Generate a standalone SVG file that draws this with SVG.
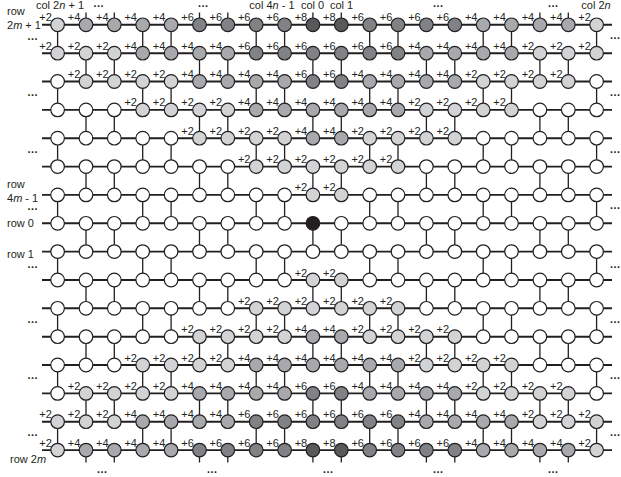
<svg xmlns="http://www.w3.org/2000/svg" xmlns:xlink="http://www.w3.org/1999/xlink" width="621" height="477" viewBox="0 0 621 477">
<style>
text{font-family:"Liberation Sans",Arial,sans-serif;fill:#231f20;font-size:11px}
.n circle{stroke:#231f20;stroke-width:1.2}
.n text{font-size:11px;text-anchor:middle}
.c0{fill:#ffffff}.c2{fill:#d1d3d4}.c4{fill:#a7a9ac}.c6{fill:#808285}.c8{fill:#58595b}.co{fill:#231f20}
.h{stroke:#231f20;stroke-width:1.9;fill:none}
.vl{stroke:#231f20;stroke-width:1.3;fill:none}
.dots{text-anchor:middle;font-size:11px;font-weight:bold}
.mid{text-anchor:middle}
</style>
<defs>
<path id="ve" d="M0 24.8V53.2M0 81.5V109.9M0 138.2V166.6M0 194.9V223.3M0 251.6V280M0 308.3V336.7M0 365V393.4M0 421.7V450.1"/>
<path id="vo" d="M0 53.2V81.5M0 109.9V138.2M0 166.6V194.9M0 223.3V251.6M0 280V308.3M0 336.7V365M0 393.4V421.7M0 450.1V462.5"/>
<path id="vt" d="M0 12.5V24.8"/>
</defs>
<g id="connectors">
<path class="h" d="M42 24.8H612M42 53.2H612M42 81.5H612M42 109.9H612M42 138.2H612M42 166.6H612M42 194.9H612M42 223.3H612M42 251.6H612M42 280H612M42 308.3H612M42 336.7H612M42 365H612M42 393.4H612M42 421.7H612M42 450.1H612"/>
<g class="vl">
<use xlink:href="#ve" x="57.6"/><use xlink:href="#ve" x="142.7"/><use xlink:href="#ve" x="171.1"/><use xlink:href="#ve" x="256.2"/><use xlink:href="#ve" x="284.6"/><use xlink:href="#ve" x="369.7"/><use xlink:href="#ve" x="398"/><use xlink:href="#ve" x="483.2"/><use xlink:href="#ve" x="511.5"/><use xlink:href="#ve" x="596.6"/>
<use xlink:href="#vo" x="86"/><use xlink:href="#vo" x="114.3"/><use xlink:href="#vo" x="199.5"/><use xlink:href="#vo" x="227.8"/><use xlink:href="#vo" x="312.9"/><use xlink:href="#vo" x="341.3"/><use xlink:href="#vo" x="426.4"/><use xlink:href="#vo" x="454.8"/><use xlink:href="#vo" x="539.9"/><use xlink:href="#vo" x="568.3"/>
<use xlink:href="#vt" x="86"/><use xlink:href="#vt" x="114.3"/><use xlink:href="#vt" x="199.5"/><use xlink:href="#vt" x="227.8"/><use xlink:href="#vt" x="312.9"/><use xlink:href="#vt" x="341.3"/><use xlink:href="#vt" x="539.9"/><use xlink:href="#vt" x="568.3"/>
</g>
</g>
<g id="labels">
<text x="60" y="9" class="mid">col 2<tspan font-style="italic">n</tspan> + 1</text>
<text x="272" y="9" class="mid">col 4<tspan font-style="italic">n</tspan> - 1</text>
<text x="312.5" y="9" class="mid">col 0</text>
<text x="341.5" y="9" class="mid">col 1</text>
<text x="596" y="9" class="mid">col 2<tspan font-style="italic">n</tspan></text>
<text x="7" y="15">row</text>
<text x="7" y="29">2<tspan font-style="italic">m</tspan> + 1</text>
<text x="7" y="188">row</text>
<text x="7" y="201.5">4<tspan font-style="italic">m</tspan> - 1</text>
<text x="7" y="227">row 0</text>
<text x="7" y="257.5">row 1</text>
<text x="10" y="463">row 2<tspan font-style="italic">m</tspan></text>
<text class="dots" x="98.5" y="7">…</text><text class="dots" x="203" y="7">…</text><text class="dots" x="438" y="7">…</text><text class="dots" x="553" y="7">…</text>
<text class="dots" x="102" y="473">…</text><text class="dots" x="212" y="473">…</text><text class="dots" x="328" y="473">…</text><text class="dots" x="438" y="473">…</text><text class="dots" x="553" y="473">…</text>
<text class="dots" x="32.5" y="39.8">…</text><text class="dots" x="32.5" y="96">…</text><text class="dots" x="32.5" y="152.7">…</text><text class="dots" x="32.5" y="209.8">…</text><text class="dots" x="32.5" y="267.7">…</text><text class="dots" x="32.5" y="322.7">…</text><text class="dots" x="32.5" y="379.3">…</text><text class="dots" x="32.5" y="436">…</text>
<text class="dots" x="615" y="39.3">…</text><text class="dots" x="615" y="96">…</text><text class="dots" x="615" y="152.7">…</text><text class="dots" x="615" y="209.3">…</text><text class="dots" x="615" y="267.7">…</text><text class="dots" x="615" y="322.7">…</text><text class="dots" x="615" y="379.3">…</text><text class="dots" x="615" y="436">…</text>
</g>
<g id="nodes">
<!-- row 0 -->
<g id="n0-0" class="n" transform="translate(57.6 24.8)"><circle class="c2" r="6.8"/><text x="-12" y="-3.5">+2</text></g>
<g id="n0-1" class="n" transform="translate(86 24.8)"><circle class="c4" r="6.8"/><text x="-12" y="-3.5">+4</text></g>
<g id="n0-2" class="n" transform="translate(114.3 24.8)"><circle class="c4" r="6.8"/><text x="-12" y="-3.5">+4</text></g>
<g id="n0-3" class="n" transform="translate(142.7 24.8)"><circle class="c4" r="6.8"/><text x="-12" y="-3.5">+4</text></g>
<g id="n0-4" class="n" transform="translate(171.1 24.8)"><circle class="c4" r="6.8"/><text x="-12" y="-3.5">+4</text></g>
<g id="n0-5" class="n" transform="translate(199.5 24.8)"><circle class="c6" r="6.8"/><text x="-12" y="-3.5">+6</text></g>
<g id="n0-6" class="n" transform="translate(227.8 24.8)"><circle class="c6" r="6.8"/><text x="-12" y="-3.5">+6</text></g>
<g id="n0-7" class="n" transform="translate(256.2 24.8)"><circle class="c6" r="6.8"/><text x="-12" y="-3.5">+6</text></g>
<g id="n0-8" class="n" transform="translate(284.6 24.8)"><circle class="c6" r="6.8"/><text x="-12" y="-3.5">+6</text></g>
<g id="n0-9" class="n" transform="translate(312.9 24.8)"><circle class="c8" r="6.8"/><text x="-12" y="-3.5">+8</text></g>
<g id="n0-10" class="n" transform="translate(341.3 24.8)"><circle class="c8" r="6.8"/><text x="-12" y="-3.5">+8</text></g>
<g id="n0-11" class="n" transform="translate(369.7 24.8)"><circle class="c6" r="6.8"/><text x="-12" y="-3.5">+6</text></g>
<g id="n0-12" class="n" transform="translate(398 24.8)"><circle class="c6" r="6.8"/><text x="-12" y="-3.5">+6</text></g>
<g id="n0-13" class="n" transform="translate(426.4 24.8)"><circle class="c6" r="6.8"/><text x="-12" y="-3.5">+6</text></g>
<g id="n0-14" class="n" transform="translate(454.8 24.8)"><circle class="c6" r="6.8"/><text x="-12" y="-3.5">+6</text></g>
<g id="n0-15" class="n" transform="translate(483.2 24.8)"><circle class="c4" r="6.8"/><text x="-12" y="-3.5">+4</text></g>
<g id="n0-16" class="n" transform="translate(511.5 24.8)"><circle class="c4" r="6.8"/><text x="-12" y="-3.5">+4</text></g>
<g id="n0-17" class="n" transform="translate(539.9 24.8)"><circle class="c4" r="6.8"/><text x="-12" y="-3.5">+4</text></g>
<g id="n0-18" class="n" transform="translate(568.3 24.8)"><circle class="c4" r="6.8"/><text x="-12" y="-3.5">+4</text></g>
<g id="n0-19" class="n" transform="translate(596.6 24.8)"><circle class="c2" r="6.8"/><text x="-12" y="-3.5">+2</text></g>
<!-- row 1 -->
<g id="n1-0" class="n" transform="translate(57.6 53.2)"><circle class="c2" r="6.8"/><text x="-12" y="-3.5">+2</text></g>
<g id="n1-1" class="n" transform="translate(86 53.2)"><circle class="c2" r="6.8"/><text x="-12" y="-3.5">+2</text></g>
<g id="n1-2" class="n" transform="translate(114.3 53.2)"><circle class="c2" r="6.8"/><text x="-12" y="-3.5">+2</text></g>
<g id="n1-3" class="n" transform="translate(142.7 53.2)"><circle class="c4" r="6.8"/><text x="-12" y="-3.5">+4</text></g>
<g id="n1-4" class="n" transform="translate(171.1 53.2)"><circle class="c4" r="6.8"/><text x="-12" y="-3.5">+4</text></g>
<g id="n1-5" class="n" transform="translate(199.5 53.2)"><circle class="c4" r="6.8"/><text x="-12" y="-3.5">+4</text></g>
<g id="n1-6" class="n" transform="translate(227.8 53.2)"><circle class="c4" r="6.8"/><text x="-12" y="-3.5">+4</text></g>
<g id="n1-7" class="n" transform="translate(256.2 53.2)"><circle class="c6" r="6.8"/><text x="-12" y="-3.5">+6</text></g>
<g id="n1-8" class="n" transform="translate(284.6 53.2)"><circle class="c6" r="6.8"/><text x="-12" y="-3.5">+6</text></g>
<g id="n1-9" class="n" transform="translate(312.9 53.2)"><circle class="c6" r="6.8"/><text x="-12" y="-3.5">+6</text></g>
<g id="n1-10" class="n" transform="translate(341.3 53.2)"><circle class="c6" r="6.8"/><text x="-12" y="-3.5">+6</text></g>
<g id="n1-11" class="n" transform="translate(369.7 53.2)"><circle class="c6" r="6.8"/><text x="-12" y="-3.5">+6</text></g>
<g id="n1-12" class="n" transform="translate(398 53.2)"><circle class="c6" r="6.8"/><text x="-12" y="-3.5">+6</text></g>
<g id="n1-13" class="n" transform="translate(426.4 53.2)"><circle class="c4" r="6.8"/><text x="-12" y="-3.5">+4</text></g>
<g id="n1-14" class="n" transform="translate(454.8 53.2)"><circle class="c4" r="6.8"/><text x="-12" y="-3.5">+4</text></g>
<g id="n1-15" class="n" transform="translate(483.2 53.2)"><circle class="c4" r="6.8"/><text x="-12" y="-3.5">+4</text></g>
<g id="n1-16" class="n" transform="translate(511.5 53.2)"><circle class="c4" r="6.8"/><text x="-12" y="-3.5">+4</text></g>
<g id="n1-17" class="n" transform="translate(539.9 53.2)"><circle class="c2" r="6.8"/><text x="-12" y="-3.5">+2</text></g>
<g id="n1-18" class="n" transform="translate(568.3 53.2)"><circle class="c2" r="6.8"/><text x="-12" y="-3.5">+2</text></g>
<g id="n1-19" class="n" transform="translate(596.6 53.2)"><circle class="c2" r="6.8"/><text x="-12" y="-3.5">+2</text></g>
<!-- row 2 -->
<g id="n2-0" class="n" transform="translate(57.6 81.5)"><circle class="c0" r="6.8"/></g>
<g id="n2-1" class="n" transform="translate(86 81.5)"><circle class="c2" r="6.8"/><text x="-12" y="-3.5">+2</text></g>
<g id="n2-2" class="n" transform="translate(114.3 81.5)"><circle class="c2" r="6.8"/><text x="-12" y="-3.5">+2</text></g>
<g id="n2-3" class="n" transform="translate(142.7 81.5)"><circle class="c2" r="6.8"/><text x="-12" y="-3.5">+2</text></g>
<g id="n2-4" class="n" transform="translate(171.1 81.5)"><circle class="c2" r="6.8"/><text x="-12" y="-3.5">+2</text></g>
<g id="n2-5" class="n" transform="translate(199.5 81.5)"><circle class="c4" r="6.8"/><text x="-12" y="-3.5">+4</text></g>
<g id="n2-6" class="n" transform="translate(227.8 81.5)"><circle class="c4" r="6.8"/><text x="-12" y="-3.5">+4</text></g>
<g id="n2-7" class="n" transform="translate(256.2 81.5)"><circle class="c4" r="6.8"/><text x="-12" y="-3.5">+4</text></g>
<g id="n2-8" class="n" transform="translate(284.6 81.5)"><circle class="c4" r="6.8"/><text x="-12" y="-3.5">+4</text></g>
<g id="n2-9" class="n" transform="translate(312.9 81.5)"><circle class="c6" r="6.8"/><text x="-12" y="-3.5">+6</text></g>
<g id="n2-10" class="n" transform="translate(341.3 81.5)"><circle class="c6" r="6.8"/><text x="-12" y="-3.5">+6</text></g>
<g id="n2-11" class="n" transform="translate(369.7 81.5)"><circle class="c4" r="6.8"/><text x="-12" y="-3.5">+4</text></g>
<g id="n2-12" class="n" transform="translate(398 81.5)"><circle class="c4" r="6.8"/><text x="-12" y="-3.5">+4</text></g>
<g id="n2-13" class="n" transform="translate(426.4 81.5)"><circle class="c4" r="6.8"/><text x="-12" y="-3.5">+4</text></g>
<g id="n2-14" class="n" transform="translate(454.8 81.5)"><circle class="c4" r="6.8"/><text x="-12" y="-3.5">+4</text></g>
<g id="n2-15" class="n" transform="translate(483.2 81.5)"><circle class="c2" r="6.8"/><text x="-12" y="-3.5">+2</text></g>
<g id="n2-16" class="n" transform="translate(511.5 81.5)"><circle class="c2" r="6.8"/><text x="-12" y="-3.5">+2</text></g>
<g id="n2-17" class="n" transform="translate(539.9 81.5)"><circle class="c2" r="6.8"/><text x="-12" y="-3.5">+2</text></g>
<g id="n2-18" class="n" transform="translate(568.3 81.5)"><circle class="c2" r="6.8"/><text x="-12" y="-3.5">+2</text></g>
<g id="n2-19" class="n" transform="translate(596.6 81.5)"><circle class="c0" r="6.8"/></g>
<!-- row 3 -->
<g id="n3-0" class="n" transform="translate(57.6 109.9)"><circle class="c0" r="6.8"/></g>
<g id="n3-1" class="n" transform="translate(86 109.9)"><circle class="c0" r="6.8"/></g>
<g id="n3-2" class="n" transform="translate(114.3 109.9)"><circle class="c0" r="6.8"/></g>
<g id="n3-3" class="n" transform="translate(142.7 109.9)"><circle class="c2" r="6.8"/><text x="-12" y="-3.5">+2</text></g>
<g id="n3-4" class="n" transform="translate(171.1 109.9)"><circle class="c2" r="6.8"/><text x="-12" y="-3.5">+2</text></g>
<g id="n3-5" class="n" transform="translate(199.5 109.9)"><circle class="c2" r="6.8"/><text x="-12" y="-3.5">+2</text></g>
<g id="n3-6" class="n" transform="translate(227.8 109.9)"><circle class="c2" r="6.8"/><text x="-12" y="-3.5">+2</text></g>
<g id="n3-7" class="n" transform="translate(256.2 109.9)"><circle class="c4" r="6.8"/><text x="-12" y="-3.5">+4</text></g>
<g id="n3-8" class="n" transform="translate(284.6 109.9)"><circle class="c4" r="6.8"/><text x="-12" y="-3.5">+4</text></g>
<g id="n3-9" class="n" transform="translate(312.9 109.9)"><circle class="c4" r="6.8"/><text x="-12" y="-3.5">+4</text></g>
<g id="n3-10" class="n" transform="translate(341.3 109.9)"><circle class="c4" r="6.8"/><text x="-12" y="-3.5">+4</text></g>
<g id="n3-11" class="n" transform="translate(369.7 109.9)"><circle class="c4" r="6.8"/><text x="-12" y="-3.5">+4</text></g>
<g id="n3-12" class="n" transform="translate(398 109.9)"><circle class="c4" r="6.8"/><text x="-12" y="-3.5">+4</text></g>
<g id="n3-13" class="n" transform="translate(426.4 109.9)"><circle class="c2" r="6.8"/><text x="-12" y="-3.5">+2</text></g>
<g id="n3-14" class="n" transform="translate(454.8 109.9)"><circle class="c2" r="6.8"/><text x="-12" y="-3.5">+2</text></g>
<g id="n3-15" class="n" transform="translate(483.2 109.9)"><circle class="c2" r="6.8"/><text x="-12" y="-3.5">+2</text></g>
<g id="n3-16" class="n" transform="translate(511.5 109.9)"><circle class="c2" r="6.8"/><text x="-12" y="-3.5">+2</text></g>
<g id="n3-17" class="n" transform="translate(539.9 109.9)"><circle class="c0" r="6.8"/></g>
<g id="n3-18" class="n" transform="translate(568.3 109.9)"><circle class="c0" r="6.8"/></g>
<g id="n3-19" class="n" transform="translate(596.6 109.9)"><circle class="c0" r="6.8"/></g>
<!-- row 4 -->
<g id="n4-0" class="n" transform="translate(57.6 138.2)"><circle class="c0" r="6.8"/></g>
<g id="n4-1" class="n" transform="translate(86 138.2)"><circle class="c0" r="6.8"/></g>
<g id="n4-2" class="n" transform="translate(114.3 138.2)"><circle class="c0" r="6.8"/></g>
<g id="n4-3" class="n" transform="translate(142.7 138.2)"><circle class="c0" r="6.8"/></g>
<g id="n4-4" class="n" transform="translate(171.1 138.2)"><circle class="c0" r="6.8"/></g>
<g id="n4-5" class="n" transform="translate(199.5 138.2)"><circle class="c2" r="6.8"/><text x="-12" y="-3.5">+2</text></g>
<g id="n4-6" class="n" transform="translate(227.8 138.2)"><circle class="c2" r="6.8"/><text x="-12" y="-3.5">+2</text></g>
<g id="n4-7" class="n" transform="translate(256.2 138.2)"><circle class="c2" r="6.8"/><text x="-12" y="-3.5">+2</text></g>
<g id="n4-8" class="n" transform="translate(284.6 138.2)"><circle class="c2" r="6.8"/><text x="-12" y="-3.5">+2</text></g>
<g id="n4-9" class="n" transform="translate(312.9 138.2)"><circle class="c4" r="6.8"/><text x="-12" y="-3.5">+4</text></g>
<g id="n4-10" class="n" transform="translate(341.3 138.2)"><circle class="c4" r="6.8"/><text x="-12" y="-3.5">+4</text></g>
<g id="n4-11" class="n" transform="translate(369.7 138.2)"><circle class="c2" r="6.8"/><text x="-12" y="-3.5">+2</text></g>
<g id="n4-12" class="n" transform="translate(398 138.2)"><circle class="c2" r="6.8"/><text x="-12" y="-3.5">+2</text></g>
<g id="n4-13" class="n" transform="translate(426.4 138.2)"><circle class="c2" r="6.8"/><text x="-12" y="-3.5">+2</text></g>
<g id="n4-14" class="n" transform="translate(454.8 138.2)"><circle class="c2" r="6.8"/><text x="-12" y="-3.5">+2</text></g>
<g id="n4-15" class="n" transform="translate(483.2 138.2)"><circle class="c0" r="6.8"/></g>
<g id="n4-16" class="n" transform="translate(511.5 138.2)"><circle class="c0" r="6.8"/></g>
<g id="n4-17" class="n" transform="translate(539.9 138.2)"><circle class="c0" r="6.8"/></g>
<g id="n4-18" class="n" transform="translate(568.3 138.2)"><circle class="c0" r="6.8"/></g>
<g id="n4-19" class="n" transform="translate(596.6 138.2)"><circle class="c0" r="6.8"/></g>
<!-- row 5 -->
<g id="n5-0" class="n" transform="translate(57.6 166.6)"><circle class="c0" r="6.8"/></g>
<g id="n5-1" class="n" transform="translate(86 166.6)"><circle class="c0" r="6.8"/></g>
<g id="n5-2" class="n" transform="translate(114.3 166.6)"><circle class="c0" r="6.8"/></g>
<g id="n5-3" class="n" transform="translate(142.7 166.6)"><circle class="c0" r="6.8"/></g>
<g id="n5-4" class="n" transform="translate(171.1 166.6)"><circle class="c0" r="6.8"/></g>
<g id="n5-5" class="n" transform="translate(199.5 166.6)"><circle class="c0" r="6.8"/></g>
<g id="n5-6" class="n" transform="translate(227.8 166.6)"><circle class="c0" r="6.8"/></g>
<g id="n5-7" class="n" transform="translate(256.2 166.6)"><circle class="c2" r="6.8"/><text x="-12" y="-3.5">+2</text></g>
<g id="n5-8" class="n" transform="translate(284.6 166.6)"><circle class="c2" r="6.8"/><text x="-12" y="-3.5">+2</text></g>
<g id="n5-9" class="n" transform="translate(312.9 166.6)"><circle class="c2" r="6.8"/><text x="-12" y="-3.5">+2</text></g>
<g id="n5-10" class="n" transform="translate(341.3 166.6)"><circle class="c2" r="6.8"/><text x="-12" y="-3.5">+2</text></g>
<g id="n5-11" class="n" transform="translate(369.7 166.6)"><circle class="c2" r="6.8"/><text x="-12" y="-3.5">+2</text></g>
<g id="n5-12" class="n" transform="translate(398 166.6)"><circle class="c2" r="6.8"/><text x="-12" y="-3.5">+2</text></g>
<g id="n5-13" class="n" transform="translate(426.4 166.6)"><circle class="c0" r="6.8"/></g>
<g id="n5-14" class="n" transform="translate(454.8 166.6)"><circle class="c0" r="6.8"/></g>
<g id="n5-15" class="n" transform="translate(483.2 166.6)"><circle class="c0" r="6.8"/></g>
<g id="n5-16" class="n" transform="translate(511.5 166.6)"><circle class="c0" r="6.8"/></g>
<g id="n5-17" class="n" transform="translate(539.9 166.6)"><circle class="c0" r="6.8"/></g>
<g id="n5-18" class="n" transform="translate(568.3 166.6)"><circle class="c0" r="6.8"/></g>
<g id="n5-19" class="n" transform="translate(596.6 166.6)"><circle class="c0" r="6.8"/></g>
<!-- row 6 -->
<g id="n6-0" class="n" transform="translate(57.6 194.9)"><circle class="c0" r="6.8"/></g>
<g id="n6-1" class="n" transform="translate(86 194.9)"><circle class="c0" r="6.8"/></g>
<g id="n6-2" class="n" transform="translate(114.3 194.9)"><circle class="c0" r="6.8"/></g>
<g id="n6-3" class="n" transform="translate(142.7 194.9)"><circle class="c0" r="6.8"/></g>
<g id="n6-4" class="n" transform="translate(171.1 194.9)"><circle class="c0" r="6.8"/></g>
<g id="n6-5" class="n" transform="translate(199.5 194.9)"><circle class="c0" r="6.8"/></g>
<g id="n6-6" class="n" transform="translate(227.8 194.9)"><circle class="c0" r="6.8"/></g>
<g id="n6-7" class="n" transform="translate(256.2 194.9)"><circle class="c0" r="6.8"/></g>
<g id="n6-8" class="n" transform="translate(284.6 194.9)"><circle class="c0" r="6.8"/></g>
<g id="n6-9" class="n" transform="translate(312.9 194.9)"><circle class="c2" r="6.8"/><text x="-12" y="-3.5">+2</text></g>
<g id="n6-10" class="n" transform="translate(341.3 194.9)"><circle class="c2" r="6.8"/><text x="-12" y="-3.5">+2</text></g>
<g id="n6-11" class="n" transform="translate(369.7 194.9)"><circle class="c0" r="6.8"/></g>
<g id="n6-12" class="n" transform="translate(398 194.9)"><circle class="c0" r="6.8"/></g>
<g id="n6-13" class="n" transform="translate(426.4 194.9)"><circle class="c0" r="6.8"/></g>
<g id="n6-14" class="n" transform="translate(454.8 194.9)"><circle class="c0" r="6.8"/></g>
<g id="n6-15" class="n" transform="translate(483.2 194.9)"><circle class="c0" r="6.8"/></g>
<g id="n6-16" class="n" transform="translate(511.5 194.9)"><circle class="c0" r="6.8"/></g>
<g id="n6-17" class="n" transform="translate(539.9 194.9)"><circle class="c0" r="6.8"/></g>
<g id="n6-18" class="n" transform="translate(568.3 194.9)"><circle class="c0" r="6.8"/></g>
<g id="n6-19" class="n" transform="translate(596.6 194.9)"><circle class="c0" r="6.8"/></g>
<!-- row 7 (row 0) -->
<g id="n7-0" class="n" transform="translate(57.6 223.3)"><circle class="c0" r="6.8"/></g>
<g id="n7-1" class="n" transform="translate(86 223.3)"><circle class="c0" r="6.8"/></g>
<g id="n7-2" class="n" transform="translate(114.3 223.3)"><circle class="c0" r="6.8"/></g>
<g id="n7-3" class="n" transform="translate(142.7 223.3)"><circle class="c0" r="6.8"/></g>
<g id="n7-4" class="n" transform="translate(171.1 223.3)"><circle class="c0" r="6.8"/></g>
<g id="n7-5" class="n" transform="translate(199.5 223.3)"><circle class="c0" r="6.8"/></g>
<g id="n7-6" class="n" transform="translate(227.8 223.3)"><circle class="c0" r="6.8"/></g>
<g id="n7-7" class="n" transform="translate(256.2 223.3)"><circle class="c0" r="6.8"/></g>
<g id="n7-8" class="n" transform="translate(284.6 223.3)"><circle class="c0" r="6.8"/></g>
<g id="n7-9" class="n" transform="translate(312.9 223.3)"><circle class="co" r="6.8"/></g>
<g id="n7-10" class="n" transform="translate(341.3 223.3)"><circle class="c0" r="6.8"/></g>
<g id="n7-11" class="n" transform="translate(369.7 223.3)"><circle class="c0" r="6.8"/></g>
<g id="n7-12" class="n" transform="translate(398 223.3)"><circle class="c0" r="6.8"/></g>
<g id="n7-13" class="n" transform="translate(426.4 223.3)"><circle class="c0" r="6.8"/></g>
<g id="n7-14" class="n" transform="translate(454.8 223.3)"><circle class="c0" r="6.8"/></g>
<g id="n7-15" class="n" transform="translate(483.2 223.3)"><circle class="c0" r="6.8"/></g>
<g id="n7-16" class="n" transform="translate(511.5 223.3)"><circle class="c0" r="6.8"/></g>
<g id="n7-17" class="n" transform="translate(539.9 223.3)"><circle class="c0" r="6.8"/></g>
<g id="n7-18" class="n" transform="translate(568.3 223.3)"><circle class="c0" r="6.8"/></g>
<g id="n7-19" class="n" transform="translate(596.6 223.3)"><circle class="c0" r="6.8"/></g>
<!-- row 8 (row 1) -->
<g id="n8-0" class="n" transform="translate(57.6 251.6)"><circle class="c0" r="6.8"/></g>
<g id="n8-1" class="n" transform="translate(86 251.6)"><circle class="c0" r="6.8"/></g>
<g id="n8-2" class="n" transform="translate(114.3 251.6)"><circle class="c0" r="6.8"/></g>
<g id="n8-3" class="n" transform="translate(142.7 251.6)"><circle class="c0" r="6.8"/></g>
<g id="n8-4" class="n" transform="translate(171.1 251.6)"><circle class="c0" r="6.8"/></g>
<g id="n8-5" class="n" transform="translate(199.5 251.6)"><circle class="c0" r="6.8"/></g>
<g id="n8-6" class="n" transform="translate(227.8 251.6)"><circle class="c0" r="6.8"/></g>
<g id="n8-7" class="n" transform="translate(256.2 251.6)"><circle class="c0" r="6.8"/></g>
<g id="n8-8" class="n" transform="translate(284.6 251.6)"><circle class="c0" r="6.8"/></g>
<g id="n8-9" class="n" transform="translate(312.9 251.6)"><circle class="c0" r="6.8"/></g>
<g id="n8-10" class="n" transform="translate(341.3 251.6)"><circle class="c0" r="6.8"/></g>
<g id="n8-11" class="n" transform="translate(369.7 251.6)"><circle class="c0" r="6.8"/></g>
<g id="n8-12" class="n" transform="translate(398 251.6)"><circle class="c0" r="6.8"/></g>
<g id="n8-13" class="n" transform="translate(426.4 251.6)"><circle class="c0" r="6.8"/></g>
<g id="n8-14" class="n" transform="translate(454.8 251.6)"><circle class="c0" r="6.8"/></g>
<g id="n8-15" class="n" transform="translate(483.2 251.6)"><circle class="c0" r="6.8"/></g>
<g id="n8-16" class="n" transform="translate(511.5 251.6)"><circle class="c0" r="6.8"/></g>
<g id="n8-17" class="n" transform="translate(539.9 251.6)"><circle class="c0" r="6.8"/></g>
<g id="n8-18" class="n" transform="translate(568.3 251.6)"><circle class="c0" r="6.8"/></g>
<g id="n8-19" class="n" transform="translate(596.6 251.6)"><circle class="c0" r="6.8"/></g>
<!-- row 9 -->
<g id="n9-0" class="n" transform="translate(57.6 280)"><circle class="c0" r="6.8"/></g>
<g id="n9-1" class="n" transform="translate(86 280)"><circle class="c0" r="6.8"/></g>
<g id="n9-2" class="n" transform="translate(114.3 280)"><circle class="c0" r="6.8"/></g>
<g id="n9-3" class="n" transform="translate(142.7 280)"><circle class="c0" r="6.8"/></g>
<g id="n9-4" class="n" transform="translate(171.1 280)"><circle class="c0" r="6.8"/></g>
<g id="n9-5" class="n" transform="translate(199.5 280)"><circle class="c0" r="6.8"/></g>
<g id="n9-6" class="n" transform="translate(227.8 280)"><circle class="c0" r="6.8"/></g>
<g id="n9-7" class="n" transform="translate(256.2 280)"><circle class="c0" r="6.8"/></g>
<g id="n9-8" class="n" transform="translate(284.6 280)"><circle class="c0" r="6.8"/></g>
<g id="n9-9" class="n" transform="translate(312.9 280)"><circle class="c2" r="6.8"/><text x="-12" y="-3.5">+2</text></g>
<g id="n9-10" class="n" transform="translate(341.3 280)"><circle class="c2" r="6.8"/><text x="-12" y="-3.5">+2</text></g>
<g id="n9-11" class="n" transform="translate(369.7 280)"><circle class="c0" r="6.8"/></g>
<g id="n9-12" class="n" transform="translate(398 280)"><circle class="c0" r="6.8"/></g>
<g id="n9-13" class="n" transform="translate(426.4 280)"><circle class="c0" r="6.8"/></g>
<g id="n9-14" class="n" transform="translate(454.8 280)"><circle class="c0" r="6.8"/></g>
<g id="n9-15" class="n" transform="translate(483.2 280)"><circle class="c0" r="6.8"/></g>
<g id="n9-16" class="n" transform="translate(511.5 280)"><circle class="c0" r="6.8"/></g>
<g id="n9-17" class="n" transform="translate(539.9 280)"><circle class="c0" r="6.8"/></g>
<g id="n9-18" class="n" transform="translate(568.3 280)"><circle class="c0" r="6.8"/></g>
<g id="n9-19" class="n" transform="translate(596.6 280)"><circle class="c0" r="6.8"/></g>
<!-- row 10 -->
<g id="n10-0" class="n" transform="translate(57.6 308.3)"><circle class="c0" r="6.8"/></g>
<g id="n10-1" class="n" transform="translate(86 308.3)"><circle class="c0" r="6.8"/></g>
<g id="n10-2" class="n" transform="translate(114.3 308.3)"><circle class="c0" r="6.8"/></g>
<g id="n10-3" class="n" transform="translate(142.7 308.3)"><circle class="c0" r="6.8"/></g>
<g id="n10-4" class="n" transform="translate(171.1 308.3)"><circle class="c0" r="6.8"/></g>
<g id="n10-5" class="n" transform="translate(199.5 308.3)"><circle class="c0" r="6.8"/></g>
<g id="n10-6" class="n" transform="translate(227.8 308.3)"><circle class="c0" r="6.8"/></g>
<g id="n10-7" class="n" transform="translate(256.2 308.3)"><circle class="c2" r="6.8"/><text x="-12" y="-3.5">+2</text></g>
<g id="n10-8" class="n" transform="translate(284.6 308.3)"><circle class="c2" r="6.8"/><text x="-12" y="-3.5">+2</text></g>
<g id="n10-9" class="n" transform="translate(312.9 308.3)"><circle class="c2" r="6.8"/><text x="-12" y="-3.5">+2</text></g>
<g id="n10-10" class="n" transform="translate(341.3 308.3)"><circle class="c2" r="6.8"/><text x="-12" y="-3.5">+2</text></g>
<g id="n10-11" class="n" transform="translate(369.7 308.3)"><circle class="c2" r="6.8"/><text x="-12" y="-3.5">+2</text></g>
<g id="n10-12" class="n" transform="translate(398 308.3)"><circle class="c2" r="6.8"/><text x="-12" y="-3.5">+2</text></g>
<g id="n10-13" class="n" transform="translate(426.4 308.3)"><circle class="c0" r="6.8"/></g>
<g id="n10-14" class="n" transform="translate(454.8 308.3)"><circle class="c0" r="6.8"/></g>
<g id="n10-15" class="n" transform="translate(483.2 308.3)"><circle class="c0" r="6.8"/></g>
<g id="n10-16" class="n" transform="translate(511.5 308.3)"><circle class="c0" r="6.8"/></g>
<g id="n10-17" class="n" transform="translate(539.9 308.3)"><circle class="c0" r="6.8"/></g>
<g id="n10-18" class="n" transform="translate(568.3 308.3)"><circle class="c0" r="6.8"/></g>
<g id="n10-19" class="n" transform="translate(596.6 308.3)"><circle class="c0" r="6.8"/></g>
<!-- row 11 -->
<g id="n11-0" class="n" transform="translate(57.6 336.7)"><circle class="c0" r="6.8"/></g>
<g id="n11-1" class="n" transform="translate(86 336.7)"><circle class="c0" r="6.8"/></g>
<g id="n11-2" class="n" transform="translate(114.3 336.7)"><circle class="c0" r="6.8"/></g>
<g id="n11-3" class="n" transform="translate(142.7 336.7)"><circle class="c0" r="6.8"/></g>
<g id="n11-4" class="n" transform="translate(171.1 336.7)"><circle class="c0" r="6.8"/></g>
<g id="n11-5" class="n" transform="translate(199.5 336.7)"><circle class="c2" r="6.8"/><text x="-12" y="-3.5">+2</text></g>
<g id="n11-6" class="n" transform="translate(227.8 336.7)"><circle class="c2" r="6.8"/><text x="-12" y="-3.5">+2</text></g>
<g id="n11-7" class="n" transform="translate(256.2 336.7)"><circle class="c2" r="6.8"/><text x="-12" y="-3.5">+2</text></g>
<g id="n11-8" class="n" transform="translate(284.6 336.7)"><circle class="c2" r="6.8"/><text x="-12" y="-3.5">+2</text></g>
<g id="n11-9" class="n" transform="translate(312.9 336.7)"><circle class="c4" r="6.8"/><text x="-12" y="-3.5">+4</text></g>
<g id="n11-10" class="n" transform="translate(341.3 336.7)"><circle class="c4" r="6.8"/><text x="-12" y="-3.5">+4</text></g>
<g id="n11-11" class="n" transform="translate(369.7 336.7)"><circle class="c2" r="6.8"/><text x="-12" y="-3.5">+2</text></g>
<g id="n11-12" class="n" transform="translate(398 336.7)"><circle class="c2" r="6.8"/><text x="-12" y="-3.5">+2</text></g>
<g id="n11-13" class="n" transform="translate(426.4 336.7)"><circle class="c2" r="6.8"/><text x="-12" y="-3.5">+2</text></g>
<g id="n11-14" class="n" transform="translate(454.8 336.7)"><circle class="c2" r="6.8"/><text x="-12" y="-3.5">+2</text></g>
<g id="n11-15" class="n" transform="translate(483.2 336.7)"><circle class="c0" r="6.8"/></g>
<g id="n11-16" class="n" transform="translate(511.5 336.7)"><circle class="c0" r="6.8"/></g>
<g id="n11-17" class="n" transform="translate(539.9 336.7)"><circle class="c0" r="6.8"/></g>
<g id="n11-18" class="n" transform="translate(568.3 336.7)"><circle class="c0" r="6.8"/></g>
<g id="n11-19" class="n" transform="translate(596.6 336.7)"><circle class="c0" r="6.8"/></g>
<!-- row 12 -->
<g id="n12-0" class="n" transform="translate(57.6 365)"><circle class="c0" r="6.8"/></g>
<g id="n12-1" class="n" transform="translate(86 365)"><circle class="c0" r="6.8"/></g>
<g id="n12-2" class="n" transform="translate(114.3 365)"><circle class="c0" r="6.8"/></g>
<g id="n12-3" class="n" transform="translate(142.7 365)"><circle class="c2" r="6.8"/><text x="-12" y="-3.5">+2</text></g>
<g id="n12-4" class="n" transform="translate(171.1 365)"><circle class="c2" r="6.8"/><text x="-12" y="-3.5">+2</text></g>
<g id="n12-5" class="n" transform="translate(199.5 365)"><circle class="c2" r="6.8"/><text x="-12" y="-3.5">+2</text></g>
<g id="n12-6" class="n" transform="translate(227.8 365)"><circle class="c2" r="6.8"/><text x="-12" y="-3.5">+2</text></g>
<g id="n12-7" class="n" transform="translate(256.2 365)"><circle class="c4" r="6.8"/><text x="-12" y="-3.5">+4</text></g>
<g id="n12-8" class="n" transform="translate(284.6 365)"><circle class="c4" r="6.8"/><text x="-12" y="-3.5">+4</text></g>
<g id="n12-9" class="n" transform="translate(312.9 365)"><circle class="c4" r="6.8"/><text x="-12" y="-3.5">+4</text></g>
<g id="n12-10" class="n" transform="translate(341.3 365)"><circle class="c4" r="6.8"/><text x="-12" y="-3.5">+4</text></g>
<g id="n12-11" class="n" transform="translate(369.7 365)"><circle class="c4" r="6.8"/><text x="-12" y="-3.5">+4</text></g>
<g id="n12-12" class="n" transform="translate(398 365)"><circle class="c4" r="6.8"/><text x="-12" y="-3.5">+4</text></g>
<g id="n12-13" class="n" transform="translate(426.4 365)"><circle class="c2" r="6.8"/><text x="-12" y="-3.5">+2</text></g>
<g id="n12-14" class="n" transform="translate(454.8 365)"><circle class="c2" r="6.8"/><text x="-12" y="-3.5">+2</text></g>
<g id="n12-15" class="n" transform="translate(483.2 365)"><circle class="c2" r="6.8"/><text x="-12" y="-3.5">+2</text></g>
<g id="n12-16" class="n" transform="translate(511.5 365)"><circle class="c2" r="6.8"/><text x="-12" y="-3.5">+2</text></g>
<g id="n12-17" class="n" transform="translate(539.9 365)"><circle class="c0" r="6.8"/></g>
<g id="n12-18" class="n" transform="translate(568.3 365)"><circle class="c0" r="6.8"/></g>
<g id="n12-19" class="n" transform="translate(596.6 365)"><circle class="c0" r="6.8"/></g>
<!-- row 13 -->
<g id="n13-0" class="n" transform="translate(57.6 393.4)"><circle class="c0" r="6.8"/></g>
<g id="n13-1" class="n" transform="translate(86 393.4)"><circle class="c2" r="6.8"/><text x="-12" y="-3.5">+2</text></g>
<g id="n13-2" class="n" transform="translate(114.3 393.4)"><circle class="c2" r="6.8"/><text x="-12" y="-3.5">+2</text></g>
<g id="n13-3" class="n" transform="translate(142.7 393.4)"><circle class="c2" r="6.8"/><text x="-12" y="-3.5">+2</text></g>
<g id="n13-4" class="n" transform="translate(171.1 393.4)"><circle class="c2" r="6.8"/><text x="-12" y="-3.5">+2</text></g>
<g id="n13-5" class="n" transform="translate(199.5 393.4)"><circle class="c4" r="6.8"/><text x="-12" y="-3.5">+4</text></g>
<g id="n13-6" class="n" transform="translate(227.8 393.4)"><circle class="c4" r="6.8"/><text x="-12" y="-3.5">+4</text></g>
<g id="n13-7" class="n" transform="translate(256.2 393.4)"><circle class="c4" r="6.8"/><text x="-12" y="-3.5">+4</text></g>
<g id="n13-8" class="n" transform="translate(284.6 393.4)"><circle class="c4" r="6.8"/><text x="-12" y="-3.5">+4</text></g>
<g id="n13-9" class="n" transform="translate(312.9 393.4)"><circle class="c6" r="6.8"/><text x="-12" y="-3.5">+6</text></g>
<g id="n13-10" class="n" transform="translate(341.3 393.4)"><circle class="c6" r="6.8"/><text x="-12" y="-3.5">+6</text></g>
<g id="n13-11" class="n" transform="translate(369.7 393.4)"><circle class="c4" r="6.8"/><text x="-12" y="-3.5">+4</text></g>
<g id="n13-12" class="n" transform="translate(398 393.4)"><circle class="c4" r="6.8"/><text x="-12" y="-3.5">+4</text></g>
<g id="n13-13" class="n" transform="translate(426.4 393.4)"><circle class="c4" r="6.8"/><text x="-12" y="-3.5">+4</text></g>
<g id="n13-14" class="n" transform="translate(454.8 393.4)"><circle class="c4" r="6.8"/><text x="-12" y="-3.5">+4</text></g>
<g id="n13-15" class="n" transform="translate(483.2 393.4)"><circle class="c2" r="6.8"/><text x="-12" y="-3.5">+2</text></g>
<g id="n13-16" class="n" transform="translate(511.5 393.4)"><circle class="c2" r="6.8"/><text x="-12" y="-3.5">+2</text></g>
<g id="n13-17" class="n" transform="translate(539.9 393.4)"><circle class="c2" r="6.8"/><text x="-12" y="-3.5">+2</text></g>
<g id="n13-18" class="n" transform="translate(568.3 393.4)"><circle class="c2" r="6.8"/><text x="-12" y="-3.5">+2</text></g>
<g id="n13-19" class="n" transform="translate(596.6 393.4)"><circle class="c0" r="6.8"/></g>
<!-- row 14 -->
<g id="n14-0" class="n" transform="translate(57.6 421.7)"><circle class="c2" r="6.8"/><text x="-12" y="-3.5">+2</text></g>
<g id="n14-1" class="n" transform="translate(86 421.7)"><circle class="c2" r="6.8"/><text x="-12" y="-3.5">+2</text></g>
<g id="n14-2" class="n" transform="translate(114.3 421.7)"><circle class="c2" r="6.8"/><text x="-12" y="-3.5">+2</text></g>
<g id="n14-3" class="n" transform="translate(142.7 421.7)"><circle class="c4" r="6.8"/><text x="-12" y="-3.5">+4</text></g>
<g id="n14-4" class="n" transform="translate(171.1 421.7)"><circle class="c4" r="6.8"/><text x="-12" y="-3.5">+4</text></g>
<g id="n14-5" class="n" transform="translate(199.5 421.7)"><circle class="c4" r="6.8"/><text x="-12" y="-3.5">+4</text></g>
<g id="n14-6" class="n" transform="translate(227.8 421.7)"><circle class="c4" r="6.8"/><text x="-12" y="-3.5">+4</text></g>
<g id="n14-7" class="n" transform="translate(256.2 421.7)"><circle class="c6" r="6.8"/><text x="-12" y="-3.5">+6</text></g>
<g id="n14-8" class="n" transform="translate(284.6 421.7)"><circle class="c6" r="6.8"/><text x="-12" y="-3.5">+6</text></g>
<g id="n14-9" class="n" transform="translate(312.9 421.7)"><circle class="c6" r="6.8"/><text x="-12" y="-3.5">+6</text></g>
<g id="n14-10" class="n" transform="translate(341.3 421.7)"><circle class="c6" r="6.8"/><text x="-12" y="-3.5">+6</text></g>
<g id="n14-11" class="n" transform="translate(369.7 421.7)"><circle class="c6" r="6.8"/><text x="-12" y="-3.5">+6</text></g>
<g id="n14-12" class="n" transform="translate(398 421.7)"><circle class="c6" r="6.8"/><text x="-12" y="-3.5">+6</text></g>
<g id="n14-13" class="n" transform="translate(426.4 421.7)"><circle class="c4" r="6.8"/><text x="-12" y="-3.5">+4</text></g>
<g id="n14-14" class="n" transform="translate(454.8 421.7)"><circle class="c4" r="6.8"/><text x="-12" y="-3.5">+4</text></g>
<g id="n14-15" class="n" transform="translate(483.2 421.7)"><circle class="c4" r="6.8"/><text x="-12" y="-3.5">+4</text></g>
<g id="n14-16" class="n" transform="translate(511.5 421.7)"><circle class="c4" r="6.8"/><text x="-12" y="-3.5">+4</text></g>
<g id="n14-17" class="n" transform="translate(539.9 421.7)"><circle class="c2" r="6.8"/><text x="-12" y="-3.5">+2</text></g>
<g id="n14-18" class="n" transform="translate(568.3 421.7)"><circle class="c2" r="6.8"/><text x="-12" y="-3.5">+2</text></g>
<g id="n14-19" class="n" transform="translate(596.6 421.7)"><circle class="c2" r="6.8"/><text x="-12" y="-3.5">+2</text></g>
<!-- row 15 -->
<g id="n15-0" class="n" transform="translate(57.6 450.1)"><circle class="c2" r="6.8"/><text x="-12" y="-3.5">+2</text></g>
<g id="n15-1" class="n" transform="translate(86 450.1)"><circle class="c4" r="6.8"/><text x="-12" y="-3.5">+4</text></g>
<g id="n15-2" class="n" transform="translate(114.3 450.1)"><circle class="c4" r="6.8"/><text x="-12" y="-3.5">+4</text></g>
<g id="n15-3" class="n" transform="translate(142.7 450.1)"><circle class="c4" r="6.8"/><text x="-12" y="-3.5">+4</text></g>
<g id="n15-4" class="n" transform="translate(171.1 450.1)"><circle class="c4" r="6.8"/><text x="-12" y="-3.5">+4</text></g>
<g id="n15-5" class="n" transform="translate(199.5 450.1)"><circle class="c6" r="6.8"/><text x="-12" y="-3.5">+6</text></g>
<g id="n15-6" class="n" transform="translate(227.8 450.1)"><circle class="c6" r="6.8"/><text x="-12" y="-3.5">+6</text></g>
<g id="n15-7" class="n" transform="translate(256.2 450.1)"><circle class="c6" r="6.8"/><text x="-12" y="-3.5">+6</text></g>
<g id="n15-8" class="n" transform="translate(284.6 450.1)"><circle class="c6" r="6.8"/><text x="-12" y="-3.5">+6</text></g>
<g id="n15-9" class="n" transform="translate(312.9 450.1)"><circle class="c8" r="6.8"/><text x="-12" y="-3.5">+8</text></g>
<g id="n15-10" class="n" transform="translate(341.3 450.1)"><circle class="c8" r="6.8"/><text x="-12" y="-3.5">+8</text></g>
<g id="n15-11" class="n" transform="translate(369.7 450.1)"><circle class="c6" r="6.8"/><text x="-12" y="-3.5">+6</text></g>
<g id="n15-12" class="n" transform="translate(398 450.1)"><circle class="c6" r="6.8"/><text x="-12" y="-3.5">+6</text></g>
<g id="n15-13" class="n" transform="translate(426.4 450.1)"><circle class="c6" r="6.8"/><text x="-12" y="-3.5">+6</text></g>
<g id="n15-14" class="n" transform="translate(454.8 450.1)"><circle class="c6" r="6.8"/><text x="-12" y="-3.5">+6</text></g>
<g id="n15-15" class="n" transform="translate(483.2 450.1)"><circle class="c4" r="6.8"/><text x="-12" y="-3.5">+4</text></g>
<g id="n15-16" class="n" transform="translate(511.5 450.1)"><circle class="c4" r="6.8"/><text x="-12" y="-3.5">+4</text></g>
<g id="n15-17" class="n" transform="translate(539.9 450.1)"><circle class="c4" r="6.8"/><text x="-12" y="-3.5">+4</text></g>
<g id="n15-18" class="n" transform="translate(568.3 450.1)"><circle class="c4" r="6.8"/><text x="-12" y="-3.5">+4</text></g>
<g id="n15-19" class="n" transform="translate(596.6 450.1)"><circle class="c2" r="6.8"/><text x="-12" y="-3.5">+2</text></g>
</g>
</svg>
